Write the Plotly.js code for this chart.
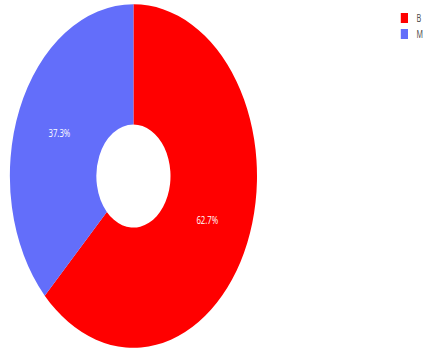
<!DOCTYPE html>
<html>
<head>
<meta charset="utf-8">
<script src="https://cdn.plot.ly/plotly-3.0.1.min.js"></script>
<style>
html, body { margin: 0; padding: 0; width: 426px; height: 352px; overflow: hidden; background: #fff; }
#chart { width: 710px; height: 422px; transform: scale(0.6, 0.834); transform-origin: 0 0; }
</style>
</head>
<body>
<div id="chart"></div>
<script>
const labels = ["B", "M"];
const counts = [357, 212];
const colors = ["#FF0000", "#636EFA"];

const trace = {
  type: "pie",
  labels: labels,
  values: counts,
  hole: 0.3,
  sort: false,
  direction: "clockwise",
  rotation: 0,
  marker: { colors: colors, line: { width: 0 } },
  textinfo: "percent",
  textposition: "inside",
  insidetextorientation: "horizontal",
  textfont: { color: "#ffffff", size: 13 },
  domain: { x: [0.0232, 0.605], y: [0.0107, 0.989] }
};

const layout = {
  width: 710,
  height: 422,
  margin: { l: 0, r: 0, t: 0, b: 0 },
  paper_bgcolor: "#ffffff",
  showlegend: true,
  legend: { x: 0.924, xanchor: "left", y: 0.983, yanchor: "top", font: { size: 12, color: "#444" } },
  font: { family: "Open Sans, sans-serif" }
};

Plotly.newPlot("chart", [trace], layout, { displayModeBar: false, staticPlot: true });
</script>
</body>
</html>
